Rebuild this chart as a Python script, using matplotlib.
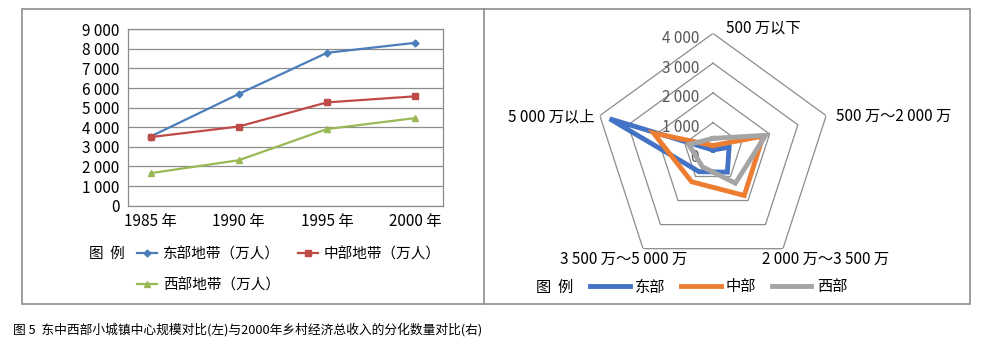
import numpy as np
import matplotlib
matplotlib.use("Agg")
from matplotlib import pyplot as plt
from matplotlib.lines import Line2D
from matplotlib.patches import Rectangle

plt.rcParams['font.family'] = ['Noto Sans CJK SC', 'DejaVu Sans']

# left chart data (万人)
years = ['1985 年', '1990 年', '1995 年', '2000 年']
east_pop = [3530, 5700, 7800, 8310]
mid_pop = [3500, 4040, 5270, 5580]
west_pop = [1660, 2320, 3910, 4470]
yticks_left = [0, 1000, 2000, 3000, 4000, 5000, 6000, 7000, 8000, 9000]
ytick_labels_left = ['0', '1 000', '2 000', '3 000', '4 000', '5 000', '6 000', '7 000', '8 000', '9 000']

# right chart data (radar)
income_groups = ['500 万以下', '500 万～2 000 万', '2 000 万～3 500 万', '3 500 万～5 000 万', '5 000 万以上']
east_cnt = [80, 570, 820, 800, 3650]
mid_cnt = [230, 1770, 1790, 1220, 2100]
west_cnt = [470, 1860, 1280, 600, 860]
rings = [1000, 2000, 3000, 4000]
ring_labels = ['1 000', '2 000', '3 000', '4 000']

fig = plt.figure(figsize=[9.86, 3.57], dpi=100)
W, H = 986, 357

# ---- left: line chart ----
ax = fig.add_axes([127.7 / W, 1 - 205.7 / H, 315.6 / W, 176.4 / H])
x = np.arange(len(years))
ax.plot(x, east_pop, color='#4A7EBB', lw=1.6, marker='D', ms=3.5, label='东部地带（万人）')
ax.plot(x, west_pop, color='#98B954', lw=1.6, marker='^', ms=5, label='西部地带（万人）')
ax.plot(x, mid_pop, color='#BE4B48', lw=1.6, marker='s', ms=5, label='中部地带（万人）')
ax.set_xlim(-0.26, 3.32)
ax.set_ylim(0, 9000)
ax.set_yticks(yticks_left)
ax.set_yticklabels(ytick_labels_left, fontsize=11)
ax.set_xticks(x)
ax.set_xticklabels(years, fontsize=11)
ax.tick_params(length=0)
ax.tick_params(axis='y', pad=6)
ax.tick_params(axis='x', pad=5)
ax.grid(axis='y', color='#8c8c8c', lw=0.9)
ax.set_axisbelow(True)
for s in ax.spines.values():
    s.set_color('#8c8c8c')
    s.set_linewidth(0.9)

handles, labels = ax.get_legend_handles_labels()
fig.legend(handles, labels, loc='upper left', bbox_to_anchor=(137 / W, 1 - 247 / H),
           ncol=2, frameon=False, fontsize=10.5, handlelength=1.4, handletextpad=0.4,
           columnspacing=1.2, labelspacing=1.15, borderaxespad=0, borderpad=0)
fig.text(107 / W, 1 - 254 / H, '图  例', fontsize=10.5, ha='center', va='center')

# ---- right: radar chart ----
R = 119
cx, cy = 713, 152.4
rax = fig.add_axes([(cx - R) / W, 1 - (cy + R) / H, 2 * R / W, 2 * R / H], projection='polar')
rax.set_theta_offset(np.pi / 2)
rax.set_theta_direction(-1)
theta = np.linspace(0, 2 * np.pi, len(income_groups), endpoint=False)
theta_c = np.append(theta, theta[0])
rax.set_ylim(0, 4000)
rax.grid(False)
rax.set_xticks([])
rax.set_yticks([])
rax.spines['polar'].set_visible(False)
rax.patch.set_alpha(0)

for r in rings:
    rax.plot(theta_c, [r] * len(theta_c), color='#8c8c8c', lw=0.9, zorder=1)

for vals, col, lab in [(east_cnt, '#4472C4', '东部'), (mid_cnt, '#ED7D31', '中部'),
                       (west_cnt, '#A5A5A5', '西部')]:
    rax.plot(theta_c, vals + vals[:1], color=col, lw=3.5, solid_joinstyle='miter', label=lab, zorder=3)

for r, lab in zip([0] + rings, ['0'] + ring_labels):
    rax.annotate(lab, xy=(0, r), xytext=(-14, -5), textcoords='offset pixels',
                 ha='right', va='center', fontsize=11, color='#595959', zorder=2)

label_offsets = [(13, 5, 'left'), (10, -1, 'left'), (-21, -11, 'left'), (44, -11, 'right'), (-5, -1, 'right')]
for t, lab, (dx, dy, ha) in zip(theta, income_groups, label_offsets):
    rax.annotate(lab, xy=(t, 4000), xytext=(dx, dy), textcoords='offset pixels',
                 ha=ha, va='center', fontsize=11, annotation_clip=False)

rh, rl = rax.get_legend_handles_labels()
fig.legend(rh, rl, loc='center left', bbox_to_anchor=(590 / W, 1 - 287 / H), ncol=3,
           frameon=False, fontsize=11, handlelength=2.6, handletextpad=0.35,
           columnspacing=1.0, borderaxespad=0, borderpad=0)
fig.text(555 / W, 1 - 287 / H, '图  例', fontsize=11, ha='center', va='center')

# ---- frames ----
fig.add_artist(Rectangle((22 / W, 1 - 304 / H), 948 / W, 295 / H, transform=fig.transFigure,
                         fill=False, ec='#8c8c8c', lw=1.2))
fig.add_artist(Line2D([484 / W, 484 / W], [1 - 304 / H, 1 - 9 / H], transform=fig.transFigure,
                      color='#8c8c8c', lw=1.2))

fig.text(13 / W, 1 - 330 / H, '图 5  东中西部小城镇中心规模对比(左)与2000年乡村经济总收入的分化数量对比(右)',
         fontsize=9.2, fontweight='medium', ha='left', va='center')

fig.savefig('out.png', dpi=100)
